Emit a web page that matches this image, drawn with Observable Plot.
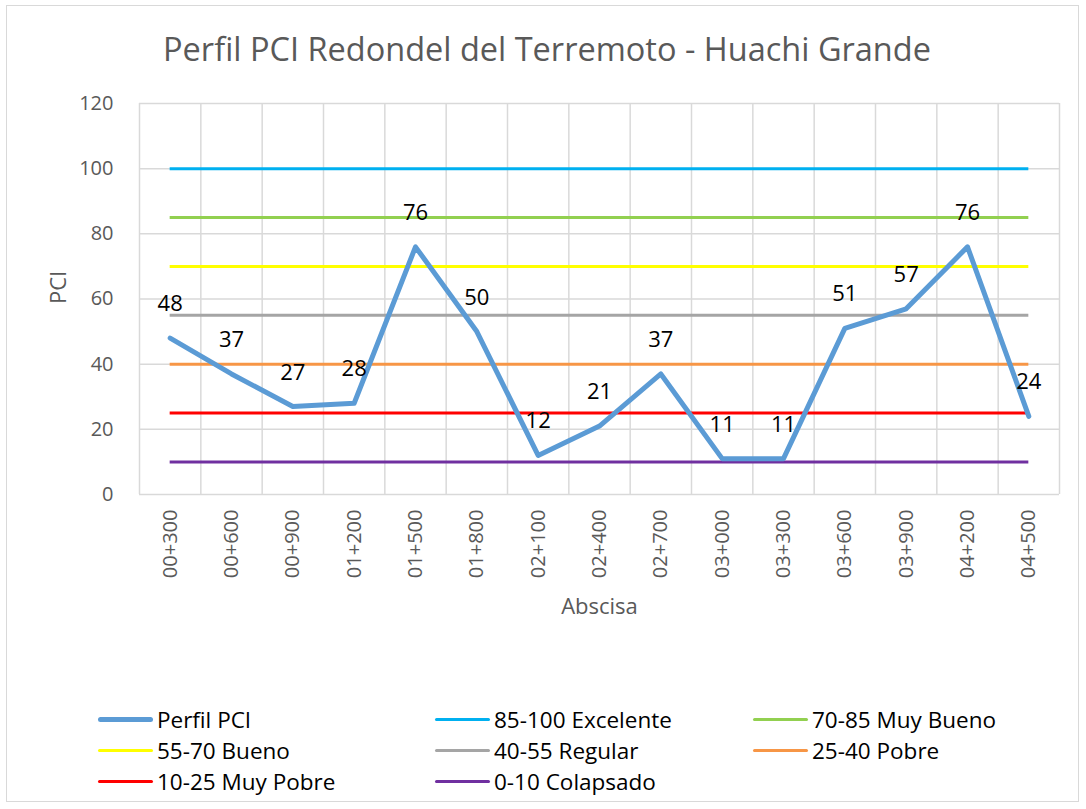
<!DOCTYPE html>
<html>
<head>
<meta charset="utf-8">
<script src="https://cdn.jsdelivr.net/npm/d3@7"></script>
<script src="https://cdn.jsdelivr.net/npm/@observablehq/plot@0.6"></script>
<style>
  html, body { margin: 0; padding: 0; background: #fff; }
  #wrap { position: relative; width: 1086px; height: 809px; overflow: hidden; font-family: "Open Sans", sans-serif; }
  #frame { position: absolute; left: 6px; top: 5px; width: 1073px; height: 797px; border: 1.5px solid #d9d9d9; box-sizing: border-box; pointer-events: none; }
  #title { position: absolute; left: 0; width: 1094px; top: 26px; text-align: center; font-size: 32.5px; color: #595959; white-space: nowrap; }
  #chart { position: absolute; left: 0; top: 0; }
  .lg { position: absolute; display: flex; align-items: center; font-size: 22.5px; color: #000; white-space: nowrap; }
  .sw { display: inline-block; width: 55px; margin-right: 4px; border-radius: 3px; }
</style>
</head>
<body>
<div id="wrap">
  <div id="chart"></div>
  <div id="title"></div>
  <div id="legend"></div>
  <div id="frame"></div>
</div>
<script>
const title = "Perfil PCI Redondel del Terremoto - Huachi Grande";
const categories = ["00+300","00+600","00+900","01+200","01+500","01+800","02+100","02+400","02+700","03+000","03+300","03+600","03+900","04+200","04+500"];
const pci = [48,37,27,28,76,50,12,21,37,11,11,51,57,76,24];
const seriesName = "Perfil PCI";
const seriesColor = "#5b9bd5";
const thresholdNames = ["85-100 Excelente","70-85 Muy Bueno","55-70 Bueno","40-55 Regular","25-40 Pobre","10-25 Muy Pobre","0-10 Colapsado"];
const thresholdValues = [100,85,70,55,40,25,10];
const thresholdColors = ["#00b0f0","#92d050","#ffff00","#a5a5a5","#f79646","#ff0000","#7030a0"];
const yTicks = [0,20,40,60,80,100,120];
const xLabel = "Abscisa";
const yLabel = "PCI";

const points = categories.map((c, i) => ({i, c, v: pci[i]}));
const bounds = categories.map((c, i) => i - 0.5).concat([categories.length - 0.5]);
const thresholds = thresholdValues.map((v, k) => ({v, name: thresholdNames[k], color: thresholdColors[k]}));
const last = categories.length - 1;

const plot = Plot.plot({
  width: 1086,
  height: 809,
  marginLeft: 139,
  marginRight: 27,
  marginTop: 103,
  marginBottom: 315,
  style: {fontFamily: "'Open Sans', sans-serif", fontSize: "20px", background: "transparent"},
  x: {type: "linear", domain: [-0.5, categories.length - 0.5]},
  y: {domain: [0, 120]},
  marks: [
    Plot.gridY(yTicks, {stroke: "#d9d9d9", strokeOpacity: 1, strokeWidth: 1.5}),
    Plot.ruleX(bounds, {stroke: "#d9d9d9", strokeOpacity: 1, strokeWidth: 1.5}),
    Plot.axisY(yTicks, {tickSize: 0, tickPadding: 26, fill: "#595959", label: null}),
    Plot.axisX(points.map(d => d.i), {tickSize: 0, tickPadding: 15, tickRotate: -90, tickFormat: i => categories[i], fill: "#595959", label: null}),
    Plot.ruleY(thresholds, {y: "v", x1: 0, x2: last, stroke: "color", strokeWidth: 3}),
    Plot.line(points, {x: "i", y: "v", stroke: seriesColor, strokeWidth: 5, strokeLinejoin: "round"}),
    Plot.text(points, {x: "i", y: "v", text: d => String(d.v), dy: -34, fill: "#000", fontSize: 22}),
    Plot.text([xLabel], {frameAnchor: "bottom", dy: 119, fill: "#595959", fontSize: 22}),
    Plot.text([yLabel], {frameAnchor: "left", dx: -81, dy: 5, rotate: -90, fill: "#595959", fontSize: 22})
  ]
});
document.getElementById("chart").appendChild(plot);
document.getElementById("title").textContent = title;

const legendItems = [{name: seriesName, color: seriesColor, w: 5}].concat(thresholds.map(t => ({name: t.name, color: t.color, w: 3})));
const colX = [98, 435, 753];
const rowY = [719, 750, 781];
const legend = document.getElementById("legend");
legendItems.forEach((it, k) => {
  const d = document.createElement("div");
  d.className = "lg";
  d.style.left = colX[k % 3] + "px";
  d.style.top = (rowY[Math.floor(k / 3)] - 15) + "px";
  d.style.height = "30px";
  const s = document.createElement("span");
  s.className = "sw";
  s.style.height = it.w + "px";
  s.style.background = it.color;
  const t = document.createElement("span");
  t.textContent = it.name;
  d.appendChild(s); d.appendChild(t);
  legend.appendChild(d);
});
</script>
</body>
</html>
